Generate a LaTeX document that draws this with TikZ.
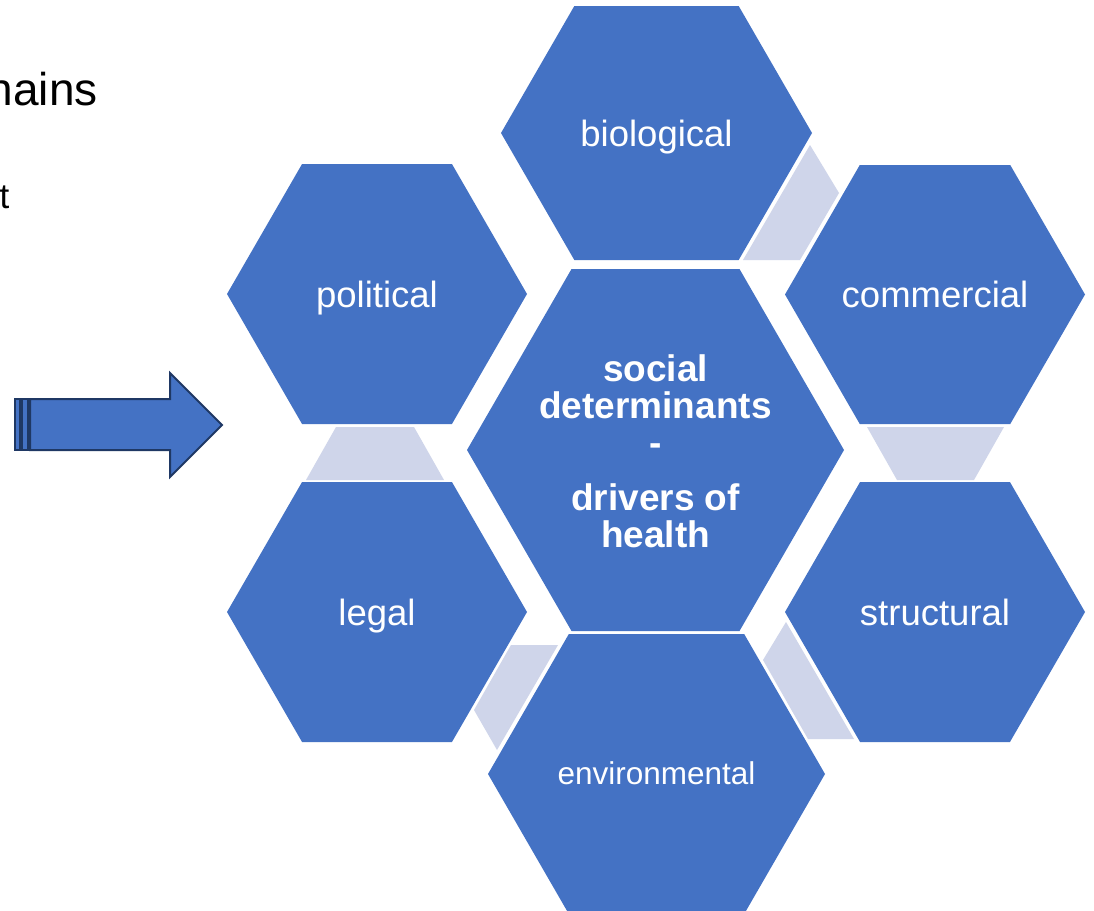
\documentclass[tikz,border=0pt]{standalone}
\usepackage{fontspec}
\setmainfont{Liberation Sans}
\definecolor{hexblue}{HTML}{4472C4}
\definecolor{lav}{HTML}{CFD5EA}
\definecolor{navy}{HTML}{1F3864}
\tikzset{
  hexfill/.style={fill=hexblue},
  linkfill/.style={fill=lav},
  hexlabel/.style={text=white, inner sep=0pt, anchor=base, font=\fontsize{36.5}{40}\selectfont},
  arrowpart/.style={fill=hexblue, draw=navy, line width=2pt, line join=miter},
}
\newcommand{\hexagonat}[4]{%
  \fill[hexfill] ({#1-#3},{#2}) -- ({#1-#3+0.57735*#4},{#2-#4}) -- ({#1+#3-0.57735*#4},{#2-#4})
    -- ({#1+#3},{#2}) -- ({#1+#3-0.57735*#4},{#2+#4}) -- ({#1-#3+0.57735*#4},{#2+#4}) -- cycle;}
\begin{document}
\begin{tikzpicture}[x=1pt,y=-1pt]
\useasboundingbox (0,0) rectangle (1094,910);
\clip (0,0) rectangle (1094,910);
\fill[white] (0,0) rectangle (1094,910);

% left text (cut at the page edge)
\node[anchor=base east, inner sep=0pt, font=\fontsize{46}{50}\selectfont] (t1) at (98,105) {nains};
\node[anchor=base east, inner sep=0pt, font=\fontsize{35}{40}\selectfont] (t2) at (9.5,208) {t};

% arrow
\draw[arrowpart] (30,399) -- (170,399) -- (170,373) -- (222,425) -- (170,477) -- (170,450) -- (30,450) -- cycle;
\draw[arrowpart] (15,399) rectangle (20,450);
\draw[arrowpart] (22,399) rectangle (28,450);

% light connectors
\fill[linkfill] (743,260) -- (810,145) -- (839,193) -- (800,260) -- cycle;
\fill[linkfill] (336,427) -- (414,427) -- (444,480) -- (306,480) -- cycle;
\fill[linkfill] (867,427) -- (1004,427) -- (974,480) -- (897,480) -- cycle;
\fill[linkfill] (511,645) -- (558,645) -- (497,750) -- (474,710) -- cycle;
\fill[linkfill] (786,622) -- (854,739) -- (808,739) -- (763,660) -- cycle;

% hexagons
\hexagonat{656.5}{133}{155.5}{127}
\hexagonat{377}{294}{150}{130}
\hexagonat{935}{294.5}{150}{129.5}
\hexagonat{655.5}{450}{188.5}{181}
\hexagonat{377}{612}{150}{130}
\hexagonat{935}{612}{150}{130}
\hexagonat{656.5}{774}{168.5}{140}

% labels
\node[hexlabel] (bio) at (656.5,146) {biological};
\node[hexlabel] (pol) at (377,307) {political};
\node[hexlabel] (com) at (935,307) {commercial};
\node[hexlabel] (leg) at (377,625) {legal};
\node[hexlabel] (str) at (935,625) {structural};
\node[hexlabel, font=\fontsize{31.5}{36}\selectfont] (env) at (656.5,784) {environmental};
\node[text=white, inner sep=0pt, align=center, font=\fontsize{37}{37}\selectfont\bfseries] (core) at (655.5,451.5)
  {social\\determinants\\-\\[18pt]drivers of\\health};
\end{tikzpicture}
\end{document}
